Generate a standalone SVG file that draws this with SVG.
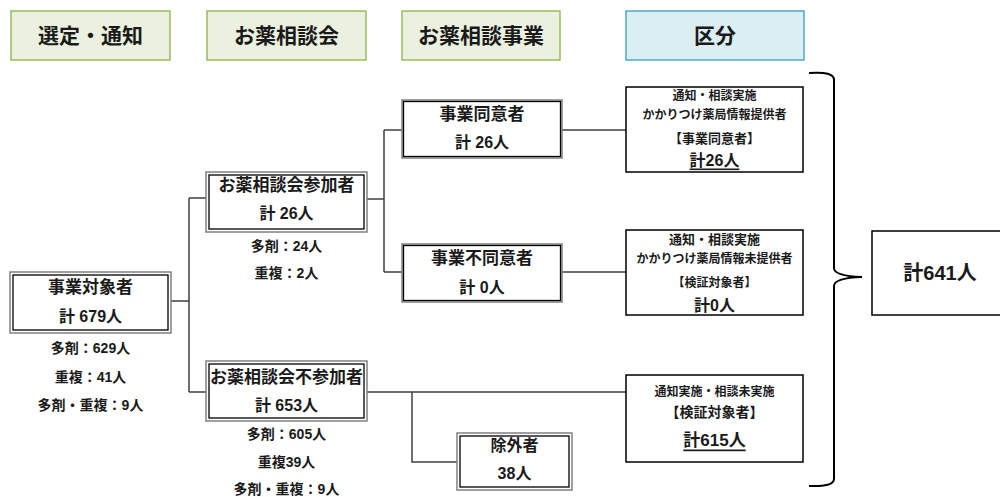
<svg xmlns="http://www.w3.org/2000/svg" width="1000" height="497" viewBox="0 0 1000 497">
<style>
text{font-family:"Liberation Sans","Noto Sans CJK JP",sans-serif;font-weight:bold;fill:#1a1a1a;text-anchor:middle;dominant-baseline:central}
.hg{fill:#EBF1DE;stroke:#9BBB59;stroke-width:1.5}
.hb{fill:#DAEEF3;stroke:#4BACC6;stroke-width:1.5}
.h{font-size:21px}
.box{fill:#fff;stroke:#000;stroke-width:1.5}
.outer{fill:#fff;stroke:#808080;stroke-width:1.5}
.inner{fill:none;stroke:#000;stroke-width:1.3}
.t1{font-size:17px}
.t2{font-size:16px}
.s{font-size:14px}
.xs{font-size:12px}
.m{font-size:13px}
.conn{fill:none;stroke:#404040;stroke-width:1.5}
</style>
<g id="headers">
<rect class="hg" x="11" y="11" width="159" height="49"/><text class="h" x="90.5" y="35.5">選定・通知</text>
<rect class="hg" x="207" y="11" width="159" height="49"/><text class="h" x="286.5" y="35.5">お薬相談会</text>
<rect class="hg" x="402" y="11" width="158" height="49"/><text class="h" x="481" y="35.5">お薬相談事業</text>
<rect class="hb" x="626" y="11" width="178" height="49"/><text class="h" x="715" y="35.5">区分</text>
</g>
<g id="connectors">
<path class="conn" d="M171 301 H189 M189 198 V392 M189 198 H206 M189 392 H206"/>
<path class="conn" d="M366 199 H384 M384 130 V272 M384 130 H402 M384 272 H402"/>
<path class="conn" d="M562 130 H626 M562 272 H626"/>
<path class="conn" d="M366 392 H626 M412 392 V462 H457"/>
<path d="M809 73 Q834 71 834 80 V268 Q834 276 862 277 Q834 278 834 286 V479 Q834 487 809 486" fill="none" stroke="#000" stroke-width="2"/>
</g>
<g id="n_target">
<rect class="outer" x="10" y="272" width="161" height="61"/><rect class="inner" x="13" y="275" width="155" height="55"/>
<text class="t1" x="90.5" y="287">事業対象者</text><text class="t2" x="90.5" y="316">計 679人</text>
<text class="s" x="90.5" y="348">多剤：629人</text><text class="s" x="90.5" y="377">重複：41人</text><text class="s" x="90.5" y="405">多剤・重複：9人</text>
</g>
<g id="n_attend">
<rect class="outer" x="206" y="172" width="161" height="60"/><rect class="inner" x="209" y="175" width="155" height="54"/>
<text class="t1" x="286.5" y="185">お薬相談会参加者</text><text class="t2" x="286.5" y="213">計 26人</text>
<text class="s" x="286.5" y="246">多剤：24人</text><text class="s" x="286.5" y="273">重複：2人</text>
</g>
<g id="n_absent">
<rect class="outer" x="206" y="361" width="161" height="60"/><rect class="inner" x="209" y="364" width="155" height="54"/>
<text class="t1" x="286.5" y="377">お薬相談会不参加者</text><text class="t2" x="286.5" y="405">計 653人</text>
<text class="s" x="286.5" y="434">多剤：605人</text><text class="s" x="286.5" y="462">重複39人</text><text class="s" x="286.5" y="489">多剤・重複：9人</text>
</g>
<g id="n_agree">
<rect class="outer" x="402" y="100" width="160" height="58"/><rect class="inner" x="403.5" y="101.5" width="157" height="55"/>
<text class="t1" x="482" y="114">事業同意者</text><text class="t2" x="482" y="142">計 26人</text>
</g>
<g id="n_disagree">
<rect class="outer" x="402" y="244" width="160" height="58"/><rect class="inner" x="403.5" y="245.5" width="157" height="55"/>
<text class="t1" x="482" y="258">事業不同意者</text><text class="t2" x="482" y="287">計 0人</text>
</g>
<g id="n_excluded">
<rect class="outer" x="457" y="433" width="115" height="57"/><rect class="inner" x="460" y="436" width="109" height="51"/>
<text class="t2" x="514.5" y="445">除外者</text><text class="t2" x="514.5" y="473">38人</text>
</g>
<g id="k_agree">
<rect class="box" x="626" y="87" width="177" height="85"/>
<text class="xs" x="714.5" y="96">通知・相談実施</text><text class="xs" x="714.5" y="115">かかりつけ薬局情報提供者</text>
<text class="m" x="714.5" y="138">【事業同意者】</text><text class="t2" x="714.5" y="160" text-decoration="underline">計26人</text>
</g>
<g id="k_disagree">
<rect class="box" x="626" y="230" width="177" height="85"/>
<text class="m" x="714.5" y="239">通知・相談実施</text><text class="xs" x="714.5" y="259">かかりつけ薬局情報未提供者</text>
<text class="xs" x="714.5" y="283">【検証対象者】</text><text class="t2" x="714.5" y="305">計0人</text>
</g>
<g id="k_absent">
<rect class="box" x="626" y="375" width="177" height="87"/>
<text class="xs" x="714.5" y="392">通知実施・相談未実施</text><text class="s" x="714.5" y="412">【検証対象者】</text>
<text class="t1" x="714.5" y="440" text-decoration="underline">計615人</text>
</g>
<g id="total">
<rect class="box" x="872" y="231" width="140" height="84"/>
<text x="940" y="273" style="font-size:20px">計641人</text>
</g>
</svg>
